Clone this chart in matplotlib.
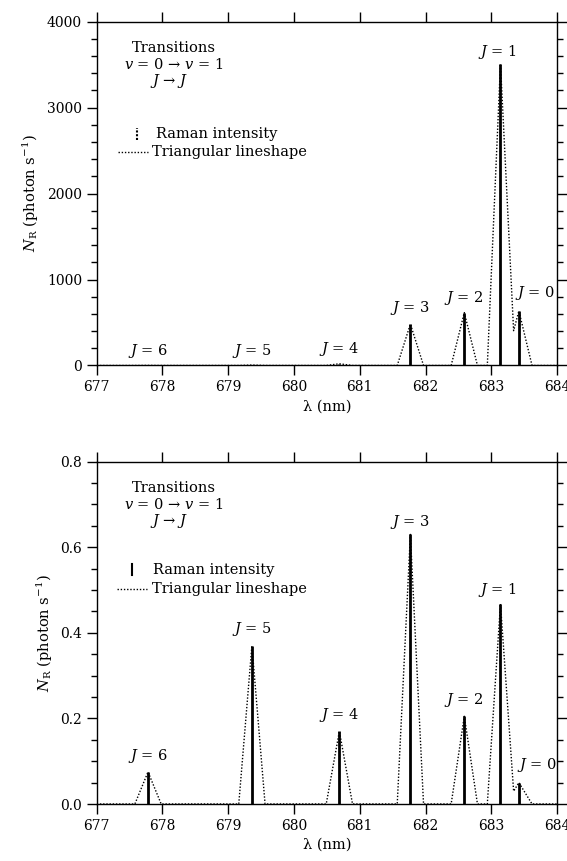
import matplotlib
matplotlib.use("Agg")
import matplotlib.pyplot as plt
from matplotlib.ticker import MultipleLocator

plt.rcParams['font.family'] = ['DejaVu Serif']
plt.rcParams['mathtext.fontset'] = 'dejavuserif'
plt.rcParams['font.size'] = 10

# rotational levels and line positions (nm)
J_levels = [6, 5, 4, 3, 2, 1, 0]
wavelength = [677.78, 679.36, 680.69, 681.77, 682.59, 683.14, 683.42]

# Raman intensities (photon/s), upper and lower panel
raman_top = [1, 5, 20, 482, 615, 3510, 635]
raman_bot = [0.075, 0.37, 0.17, 0.63, 0.205, 0.468, 0.05]

# triangular lineshape vertices (nm, photon/s)
shape_x = [677.0, 677.58, 677.78, 677.98, 679.16, 679.36, 679.56,
           680.49, 680.69, 680.89, 681.57, 681.77, 681.97,
           682.39, 682.59, 682.79, 682.94, 683.14, 683.34, 683.42, 683.62, 684.0]
shape_top = [0, 0, 1, 0, 0, 5, 0,
             0, 20, 0, 0, 482, 0,
             0, 615, 0, 0, 3510, 405, 635, 0, 0]
shape_bot = [0, 0, 0.075, 0, 0, 0.37, 0,
             0, 0.17, 0, 0, 0.63, 0,
             0, 0.205, 0, 0, 0.468, 0.03, 0.05, 0, 0]

# label positions (nm, value) for each J label
lab_top_x = [677.78, 679.36, 680.69, 681.77, 682.59, 683.10, 683.66]
lab_top_y = [170, 170, 190, 665, 790, 3650, 840]
lab_bot_x = [677.78, 679.36, 680.69, 681.77, 682.59, 683.10, 683.70]
lab_bot_y = [0.113, 0.41, 0.208, 0.66, 0.243, 0.50, 0.092]

fig = plt.figure(figsize=(5.67, 8.61), dpi=100)
ax1 = fig.add_axes([0.1706, 0.5755, 0.8118, 0.3993])
ax2 = fig.add_axes([0.1706, 0.0662, 0.8118, 0.3976])

dot = (0, (1, 1.3))

def panel(ax, raman, shape, lab_x, lab_y, ymax, minor, major, fmt):
    ax.plot(shape_x, shape, color='black', lw=1.0, linestyle=dot, zorder=2)
    ax.vlines(wavelength, 0, raman, color='black', lw=2.0, zorder=3)
    for j, x, y in zip(J_levels, lab_x, lab_y):
        ax.text(x, y, r"$J$ = %d" % j, ha='center', va='center', fontsize=10.5)
    ax.set_xlim(677, 684)
    ax.set_ylim(0, ymax)
    ax.xaxis.set_major_locator(MultipleLocator(1))
    ax.yaxis.set_major_locator(MultipleLocator(major))
    ax.yaxis.set_minor_locator(MultipleLocator(minor))
    ax.yaxis.set_major_formatter(fmt)
    ax.tick_params(axis='both', which='major', direction='out', length=7,
                   width=1.0, labelsize=10)
    ax.tick_params(axis='y', which='minor', direction='out', length=4, width=1.0)
    ax.tick_params(top=True, right=True, labeltop=False, labelright=False)
    ax.tick_params(axis='y', which='minor', right=True)
    for s in ax.spines.values():
        s.set_linewidth(1.0)
    ax.set_xlabel(u"\u03bb (nm)", fontsize=10.5, labelpad=4)
    ax.set_ylabel(r"$N_\mathrm{R}$ (photon s$^{\mathregular{-1}}$)", fontsize=10.5)

    # header text (axes fraction)
    ax.text(0.168, 0.924, "Transitions", transform=ax.transAxes,
            ha='center', va='center', fontsize=10.5)
    ax.text(0.168, 0.875, u"$v$ = 0 \u2192 $v$ = 1", transform=ax.transAxes,
            ha='center', va='center', fontsize=10.5)
    ax.text(0.158, 0.828, u"$J$ \u2192 $J$", transform=ax.transAxes,
            ha='center', va='center', fontsize=10.5)

panel(ax1, raman_top, shape_top, lab_top_x, lab_top_y, 4000, 200, 1000,
      lambda v, p: "%d" % v)
panel(ax2, raman_bot, shape_bot, lab_bot_x, lab_bot_y, 0.8, 0.05, 0.2,
      lambda v, p: "%.1f" % v)

# legends drawn by hand
ax1.plot([0.088, 0.088], [0.655, 0.690], transform=ax1.transAxes,
         color='black', lw=1.5, linestyle=(0, (1, 0.8)))
ax1.text(0.128, 0.672, "Raman intensity", transform=ax1.transAxes,
         ha='left', va='center', fontsize=10.5)
ax1.plot([0.046, 0.111], [0.620, 0.620], transform=ax1.transAxes,
         color='black', lw=1.0, linestyle=dot)
ax1.text(0.120, 0.620, "Triangular lineshape", transform=ax1.transAxes,
         ha='left', va='center', fontsize=10.5)

ax2.plot([0.076, 0.076], [0.668, 0.702], transform=ax2.transAxes,
         color='black', lw=1.5)
ax2.text(0.123, 0.685, "Raman intensity", transform=ax2.transAxes,
         ha='left', va='center', fontsize=10.5)
ax2.plot([0.044, 0.109], [0.628, 0.628], transform=ax2.transAxes,
         color='black', lw=1.0, linestyle=dot)
ax2.text(0.120, 0.628, "Triangular lineshape", transform=ax2.transAxes,
         ha='left', va='center', fontsize=10.5)

fig.savefig("out.png", dpi=100)
